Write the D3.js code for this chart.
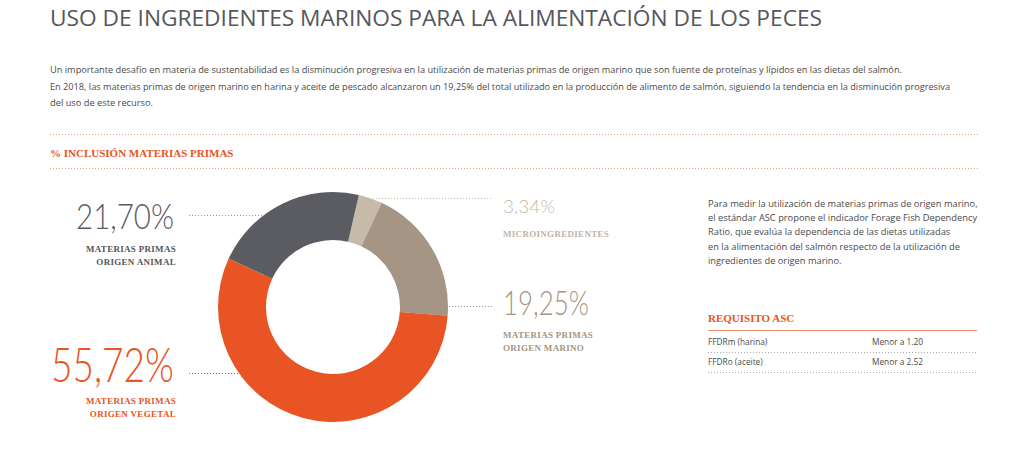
<!DOCTYPE html>
<html>
<head>
<meta charset="utf-8">
<script src="https://cdn.jsdelivr.net/npm/d3@7"></script>
<style>
  body { margin: 0; background: #fff; }
  svg { display: block; }
</style>
</head>
<body>
<script>
// Chart data.
var categories = ["Microingredientes", "Materias primas origen marino", "Materias primas origen vegetal", "Materias primas origen animal"];
var values     = [3.34, 19.25, 55.72, 21.70];
var valueLabels = ["3,34%", "19,25%", "55,72%", "21,70%"];

var introLines = [
    "Un importante desafío en materia de sustentabilidad es la disminución progresiva en la utilización de materias primas de origen marino que son fuente de proteínas y lípidos en las dietas del salmón.",
    "En 2018, las materias primas de origen marino en harina y aceite de pescado alcanzaron un 19,25% del total utilizado en la producción de alimento de salmón, siguiendo la tendencia en la disminución progresiva",
    "del uso de este recurso."
];
var sideLines = [
    "Para medir la utilización de materias primas de origen marino,",
    "el estándar ASC propone el indicador Forage Fish Dependency",
    "Ratio, que evalúa la dependencia de las dietas utilizadas",
    "en la alimentación del salmón respecto de la utilización de",
    "ingredientes de origen marino."
];
var reqNames  = ["FFDRm (harina)", "FFDRo (aceite)"];
var reqValues = ["Menor a 1.20", "Menor a 2.52"];

// Canvas.
var width  = 1021,
    height = 449;

var orange = "#e85424",
    gray   = "#5b5c61",
    text   = "#4a4a4a";

var color = d3.scaleOrdinal()
    .domain(categories)
    .range(["#c6bba8", "#a59584", orange, gray]);

var svg = d3.select("body")
    .append("svg")
    .attr("width", width)
    .attr("height", height);

var sans  = "'Open Sans', 'Noto Sans', sans-serif",
    thin  = "Lato, 'Open Sans', sans-serif",
    serif = "'Liberation Serif', 'DejaVu Serif', serif";

// Title.
svg.append("text")
    .attr("x", 50).attr("y", 26)
    .attr("font-family", sans)
    .attr("font-size", "21px")
    .attr("fill", "#56575c")
    .attr("textLength", 772)
    .attr("lengthAdjust", "spacingAndGlyphs")
    .text("USO DE INGREDIENTES MARINOS PARA LA ALIMENTACIÓN DE LOS PECES");

// Intro paragraph.
var introWidths = [852, 900, 103];
svg.selectAll("text.intro")
    .data(introLines)
  .enter()
    .append("text")
    .attr("class", "intro")
    .attr("x", 50)
    .attr("y", function(d, i) { return 73 + i * 16.5; })
    .attr("font-family", sans)
    .attr("font-size", "9.4px")
    .attr("fill", text)
    .attr("textLength", function(d, i) { return introWidths[i]; })
    .attr("lengthAdjust", "spacingAndGlyphs")
    .text(function(d) { return d; });

// Dotted rules around section header.
function dotted(x1, x2, y, c) {
    svg.append("line")
        .attr("x1", x1).attr("x2", x2)
        .attr("y1", y).attr("y2", y)
        .attr("stroke", c || "#e8a184")
        .attr("stroke-width", 1)
        .attr("stroke-dasharray", "1,2");
}
dotted(50, 978, 134.5);
dotted(50, 978, 168.5);

svg.append("text")
    .attr("x", 50).attr("y", 157)
    .attr("font-family", serif)
    .attr("font-weight", "bold")
    .attr("font-size", "11px")
    .attr("fill", orange)
    .text("% INCLUSIÓN MATERIAS PRIMAS");

// Leader lines (drawn before donut so it covers them).
dotted(189, 300, 215.5, "#9a9a9a");
dotted(189, 300, 373.5, orange);
dotted(373, 492, 198.5, "#c6bba8");
dotted(440, 492, 306.5, "#a59584");

// Donut.
var cx = 333, cy = 307;
var pie = d3.pie()
    .sort(null)
    .startAngle(13 * Math.PI / 180)
    .endAngle(373 * Math.PI / 180);

var arc = d3.arc()
    .innerRadius(67)
    .outerRadius(115);

svg.append("g")
    .attr("transform", "translate(" + cx + "," + cy + ")")
  .selectAll("path")
    .data(pie(values))
  .enter()
    .append("path")
    .attr("d", arc)
    .attr("fill", function(d, i) { return color(categories[i]); });

// Value labels.
var labels = [
    { i: 3, x: 174, y: 229, size: 36, w: 98,  anchor: "end",   lines: ["MATERIAS PRIMAS", "ORIGEN ANIMAL"],  ly: 252, c: "#55565b" },
    { i: 2, x: 174, y: 382, size: 47, w: 123, anchor: "end",   lines: ["MATERIAS PRIMAS", "ORIGEN VEGETAL"], ly: 404, c: orange },
    { i: 0, x: 503, y: 213, size: 18, w: 52,  anchor: "start", lines: ["MICROINGREDIENTES"],                ly: 237, c: "#c0b5a2" },
    { i: 1, x: 503, y: 315, size: 33, w: 86,  anchor: "start", lines: ["MATERIAS PRIMAS", "ORIGEN MARINO"],  ly: 338, c: "#a59584" }
];

labels.forEach(function(l) {
    svg.append("text")
        .attr("x", l.x).attr("y", l.y)
        .attr("text-anchor", l.anchor)
        .attr("font-family", thin)
        .attr("font-weight", 300)
        .attr("font-size", l.size + "px")
        .attr("textLength", l.w)
        .attr("lengthAdjust", "spacingAndGlyphs")
        .attr("fill", color(categories[l.i]))
        .text(valueLabels[l.i]);
    l.lines.forEach(function(t, j) {
        svg.append("text")
            .attr("x", l.anchor === "end" ? l.x + 2 : l.x).attr("y", l.ly + j * 12.5)
            .attr("text-anchor", l.anchor)
            .attr("font-family", serif)
            .attr("font-weight", "bold")
            .attr("font-size", "9px")
            .attr("letter-spacing", "0.3px")
            .attr("fill", l.c)
            .text(t);
    });
});

// Side note.
svg.selectAll("text.side")
    .data(sideLines)
  .enter()
    .append("text")
    .attr("class", "side")
    .attr("x", 708)
    .attr("y", function(d, i) { return 207 + i * 14.2; })
    .attr("font-family", sans)
    .attr("font-size", "9.3px")
    .attr("fill", text)
    .text(function(d) { return d; });

svg.append("text")
    .attr("x", 708).attr("y", 322)
    .attr("font-family", serif)
    .attr("font-weight", "bold")
    .attr("font-size", "11px")
    .attr("fill", orange)
    .text("REQUISITO ASC");

svg.append("line")
    .attr("x1", 708).attr("x2", 977)
    .attr("y1", 330.5).attr("y2", 330.5)
    .attr("stroke", "#ec8f6c")
    .attr("stroke-width", 1.2);

reqNames.forEach(function(n, i) {
    var y = 345 + i * 20;
    svg.append("text")
        .attr("x", 708).attr("y", y)
        .attr("font-family", sans)
        .attr("font-size", "8.3px")
        .attr("fill", text)
        .text(n);
    svg.append("text")
        .attr("x", 872).attr("y", y)
        .attr("font-family", sans)
        .attr("font-size", "8.3px")
        .attr("fill", text)
        .text(reqValues[i]);
    dotted(708, 978, y + 7.5, "#aaaaaa");
});
</script>
</body>
</html>
